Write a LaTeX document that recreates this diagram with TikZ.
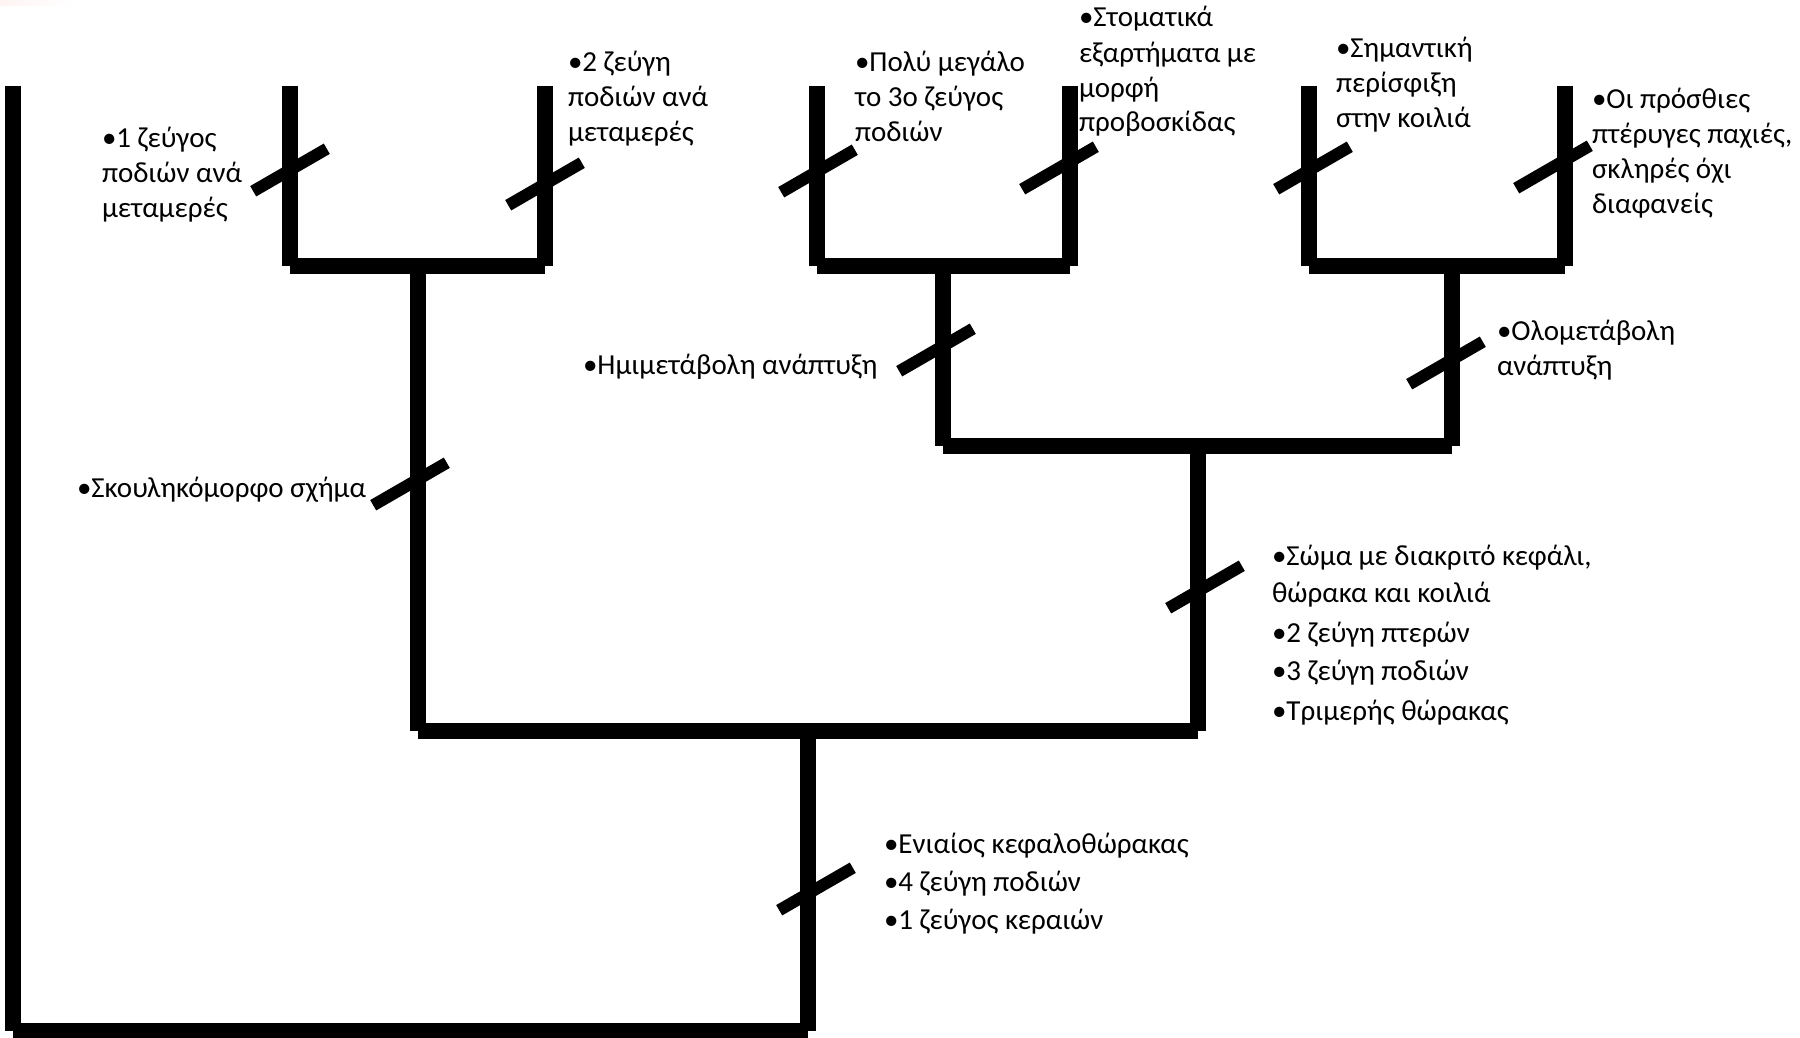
\documentclass[tikz,border=0pt]{standalone}
\usepackage{fontspec}
\setmainfont{Carlito}
\begin{document}
\begin{tikzpicture}[x=1pt,y=-1pt,
  branch/.style={line width=16pt, line cap=butt, draw=black},
  tickmark/.style={line width=12pt, line cap=butt, draw=black},
  lbl/.style={anchor=base west, inner sep=0pt, outer sep=0pt, align=left,
              font=\fontsize{29}{35}\selectfont, text=black}]
\useasboundingbox (0,0) rectangle (1800,1038);
\shade[left color=pink!18, right color=white] (0,0) rectangle (75,6);

% ---------- branch points ----------
\coordinate (Ltop) at (13,86);   \coordinate (Lbot) at (13,1030.5);
\coordinate (Rtop) at (808,731); \coordinate (Rbot) at (808,1030.5);
\coordinate (Mleft) at (418,731); \coordinate (Mright) at (1198,731);
\coordinate (Mytop) at (418,266);
\coordinate (Atop) at (290,86);  \coordinate (Abot) at (290,266);
\coordinate (Btop) at (545,86);  \coordinate (Bbot) at (545,266);
\coordinate (Itop) at (1198,446);
\coordinate (Cleft) at (943,446); \coordinate (Cright) at (1452,446);
\coordinate (Hemi) at (943,266);  \coordinate (Holo) at (1452,266);
\coordinate (Dtop) at (817,86);  \coordinate (Dbot) at (817,266);
\coordinate (Etop) at (1070,86); \coordinate (Ebot) at (1070,266);
\coordinate (Ftop) at (1309,86); \coordinate (Fbot) at (1309,266);
\coordinate (Gtop) at (1565,86); \coordinate (Gbot) at (1565,266);

% ---------- branches ----------
\draw[branch] (Ltop) -- (Lbot);
\draw[branch] (Lbot) -- (Rbot);
\draw[branch] (Rtop) -- (Rbot);
\draw[branch] (Mleft) -- (Mright);
\draw[branch] (Mytop) -- (Mleft);
\draw[branch] (Itop) -- (Mright);
\draw[branch] (Atop) -- (Abot);
\draw[branch] (Btop) -- (Bbot);
\draw[branch] (Abot) -- (Bbot);
\draw[branch] (Cleft) -- (Cright);
\draw[branch] (Hemi) -- (Cleft);
\draw[branch] (Holo) -- (Cright);
\draw[branch] (Dtop) -- (Dbot);
\draw[branch] (Etop) -- (Ebot);
\draw[branch] (Dbot) -- (Ebot);
\draw[branch] (Ftop) -- (Fbot);
\draw[branch] (Gtop) -- (Gbot);
\draw[branch] (Fbot) -- (Gbot);

% ---------- tick marks ----------
\coordinate (t1) at (290,170);
\coordinate (t2) at (545,184);
\coordinate (t3) at (818,171);
\coordinate (t4) at (1059,168);
\coordinate (t5) at (1313,168);
\coordinate (t6) at (1553,167);
\coordinate (t7) at (936,350);
\coordinate (t8) at (1446,363);
\coordinate (t9) at (410,484);
\coordinate (t10) at (1205,587);
\coordinate (t11) at (816,889);
\foreach \n in {t1,t2,t3,t4,t5,t6,t7,t8,t9,t10,t11}{
  \draw[tickmark] (\n) ++(-36.8,21.25) -- ++(73.6,-42.5);
}

% ---------- labels (anchored at the baseline of the last line) ----------
\node[lbl] (la) at (102,217) {•1 ζεύγος\\ποδιών ανά\\μεταμερές};
\node[lbl] (lb) at (568,142) {•2 ζεύγη\\ποδιών ανά\\μεταμερές};
\node[lbl] (lc) at (855,142) {•Πολύ μεγάλο\\το 3ο ζεύγος\\ποδιών};
\node[lbl] (ld) at (1079,132) {•Στοματικά\\εξαρτήματα με\\μορφή\\προβοσκίδας};
\node[lbl] (le) at (1336,128) {•Σημαντική\\περίσφιξη\\στην κοιλιά};
\node[lbl] (lf) at (1592,213) {•Οι πρόσθιες\\πτέρυγες παχιές,\\σκληρές όχι\\διαφανείς};
\node[lbl] (lg) at (583,374) {•Ημιμετάβολη ανάπτυξη};
\node[lbl] (lh) at (1497,375) {•Ολομετάβολη\\ανάπτυξη};
\node[lbl] (li) at (77,497) {•Σκουληκόμορφο σχήμα};
\node[lbl] (lj) at (1272,720) {•Σώμα με διακριτό κεφάλι,\\[2pt]θώρακα και κοιλιά\\[5pt]•2 ζεύγη πτερών\\[3pt]•3 ζεύγη ποδιών\\[5pt]•Τριμερής θώρακας};
\node[lbl] (lk) at (884,929) {•Ενιαίος κεφαλοθώρακας\\[3pt]•4 ζεύγη ποδιών\\[3pt]•1 ζεύγος κεραιών};
\end{tikzpicture}
\end{document}
